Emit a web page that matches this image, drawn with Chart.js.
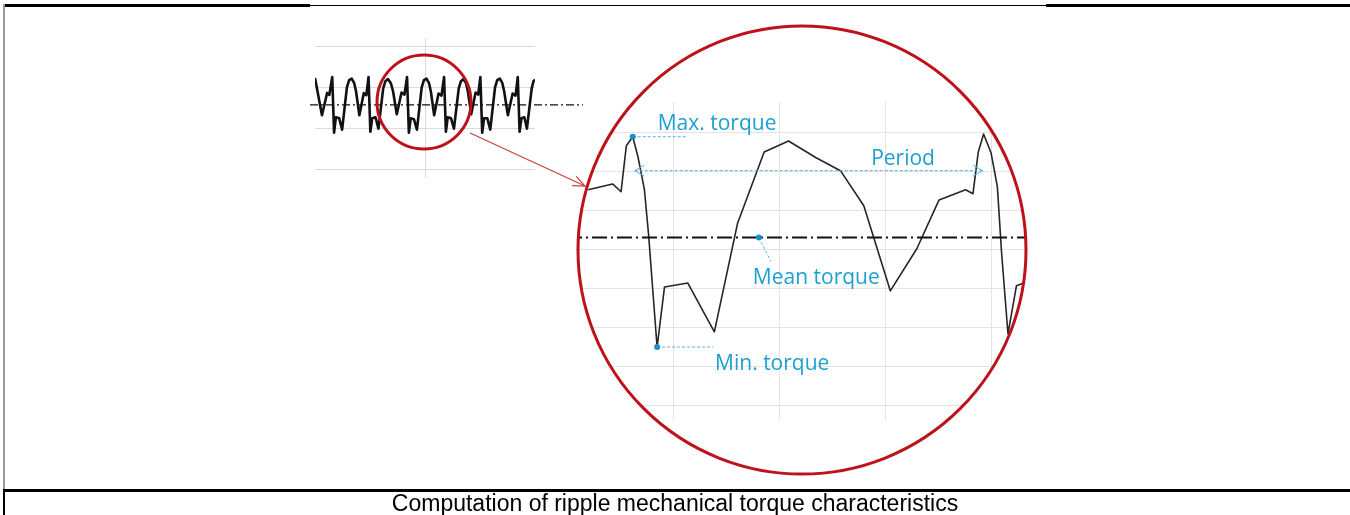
<!DOCTYPE html>
<html>
<head>
<meta charset="utf-8">
<script src="https://cdn.jsdelivr.net/npm/chart.js@4.4.1/dist/chart.umd.min.js"></script>
<style>
  html, body { margin: 0; padding: 0; background: #fff; }
  #page { position: relative; width: 1350px; height: 515px; overflow: hidden; background: #fff; }
  canvas { position: absolute; left: 0; top: 0; }
  .rule { position: absolute; background: #000; }
  #caption {
    position: absolute; left: 0; top: 491px; width: 1350px; height: 24px;
    line-height: 24px; text-align: center; color: #000;
    font-family: "Liberation Sans", Arial, sans-serif; font-size: 23px;
  }
</style>
</head>
<body>
<div id="page">
  <div class="rule" style="left:3px;top:4px;width:307px;height:3px"></div>
  <div class="rule" style="left:310px;top:5px;width:736px;height:1px"></div>
  <div class="rule" style="left:1046px;top:4px;width:304px;height:3px"></div>
  <div class="rule" style="left:3px;top:4px;width:2px;height:485px;background:#9a9a9a"></div>
  <div class="rule" style="left:3px;top:489px;width:1347px;height:3px"></div>
  <div class="rule" style="left:3px;top:489px;width:2px;height:26px"></div>
  <canvas id="zoomChart" width="1350" height="490"></canvas>
  <canvas id="stripChart" width="1350" height="490"></canvas>
  <div id="caption">Computation of ripple mechanical torque characteristics</div>
</div>
<script>
// long strip of the torque signal (top left)
const stripTime = [0, 1.9, 3.3, 3.9, 4.7,
  5.2, 5.7, 6.6, 7.4, 8.7, 9.3, 10.0, 10.7, 11.2, 12.1, 13.3, 14.0, 14.6,
  15.1, 15.6, 16.5, 17.3, 18.6, 19.2, 19.9, 20.7, 21.3, 22.3, 23.6, 24.4, 25.1,
  25.6, 26.1, 27.0, 27.8, 29.1, 29.7, 30.4, 31.1, 31.6, 32.5, 33.7, 34.5, 35.2,
  35.7, 36.2, 37.1, 37.9, 39.2, 39.8, 40.5, 41.2, 41.7, 42.6, 43.8, 44.5, 45.1,
  45.6, 46.1, 47.0, 47.8, 49.1, 49.7, 50.4, 51.1, 51.6, 52.6, 53.9, 54.7, 55.3,
  55.8, 56.3, 57.1, 57.8, 59.1, 59.6, 60];
const stripTorque = [1.45, -0.35, 0.73, 0.63, 1.5,
  -1.2, -0.45, -0.5, -1.05, 1.0, 1.35, 1.42, 1.2, 0.8, -0.35, 0.72, 0.62, 1.5,
  -1.15, -0.5, -0.45, -1.0, 0.95, 1.3, 1.4, 1.2, 0.8, -0.3, 0.75, 0.65, 1.5,
  -1.2, -0.5, -0.55, -1.05, 1.0, 1.35, 1.42, 1.2, 0.8, -0.35, 0.7, 0.6, 1.5,
  -1.15, -0.45, -0.5, -1.0, 0.95, 1.3, 1.4, 1.2, 0.8, -0.3, 0.75, 0.65, 1.5,
  -1.2, -0.5, -0.5, -1.05, 1.0, 1.35, 1.42, 1.2, 0.8, -0.35, 0.7, 0.6, 1.5,
  -1.15, -0.5, -0.45, -1.0, 0.95, 1.3, 1.38];
const stripTimeTicks = [30];
const stripTorqueTicks = [-3, -1, 1, 3];
const stripMean = 0.15;

// one period, zoomed in (inside the big circle)
const zoomTime = [2.0, 4.3, 5.1, 5.6, 6.2, 6.7, 7.3, 7.7, 8.5, 9.2, 11.4, 13.9,
  16.1, 18.6, 20.9, 23.5, 25.8, 28.0, 30.5, 33.0, 35.1, 37.6, 38.3, 38.8,
  39.3, 40.0, 40.6, 41.0, 41.6, 42.4, 43.1];
const zoomTorque = [15.4, 16.9, 14.9, 26.7, 29.0, 23.8, 15.5, 3.8, -24.9, -9.5, -8.5, -21.0,
  6.9, 25.1, 27.9, 23.6, 20.3, 11.3, -10.5, 0.3, 12.8, 15.4, 14.4, 25.1,
  29.7, 24.9, 16.2, -0.8, -21.5, -9.2, -8.5];
const zoomTimeTicks = [10, 20, 30, 40];
const zoomTorqueTicks = [-40, -30, -20, -10, 0, 10, 20, 30];
const meanTorque = 3.2;
const meanMarkTime = 18.1;
const maxIndex = 4;      // first peak, marked "Max. torque"
const minIndex = 8;      // "Min. torque"
const nextPeakIndex = 24; // end of the period
const periodLevel = 20.3;

const labelBlue = '#1c9fd3';
const leaderBlue = '#58b3de';
const red = '#bd1219';

const bigCircle = { x: 802, y: 250, r: 224 };
const smallCircle = { x: 424, y: 102, r: 47 };

function line(ctx, x1, y1, x2, y2) {
  ctx.beginPath(); ctx.moveTo(x1, y1); ctx.lineTo(x2, y2); ctx.stroke();
}
function chevron(ctx, tipX, tipY, dir, len) {
  // open arrow head pointing along dir (+1 right, -1 left)
  const a = Math.PI / 6;
  ctx.beginPath();
  ctx.moveTo(tipX - dir * len * Math.cos(a), tipY - len * Math.sin(a));
  ctx.lineTo(tipX, tipY);
  ctx.lineTo(tipX - dir * len * Math.cos(a), tipY + len * Math.sin(a));
  ctx.stroke();
}
function fixedTicks(values) {
  return scale => { scale.ticks = values.map(v => ({ value: v })); };
}
function gridAxis(min, max, ticks, color) {
  return {
    type: 'linear', min, max,
    afterBuildTicks: fixedTicks(ticks),
    grid: { color, lineWidth: 1, drawTicks: false },
    border: { display: false },
    ticks: { display: false }
  };
}

const zoomDecor = {
  id: 'zoomDecor',
  beforeDraw(chart) {
    const ctx = chart.ctx;
    ctx.save();
    ctx.beginPath();
    ctx.arc(bigCircle.x, bigCircle.y, bigCircle.r, 0, Math.PI * 2);
    ctx.clip();
  },
  afterDatasetsDraw(chart) {
    const { ctx, chartArea, scales: { y } } = chart;
    const my = y.getPixelForValue(meanTorque);
    ctx.save();
    ctx.strokeStyle = '#111';
    ctx.lineWidth = 2;
    ctx.setLineDash([15, 4, 2, 4]);
    line(ctx, chartArea.left, my, chartArea.right, my);
    ctx.restore();
  },
  afterDraw(chart) {
    const { ctx, scales: { x, y } } = chart;
    ctx.restore(); // end of circle clip

    const pt = i => ({ x: x.getPixelForValue(zoomTime[i]), y: y.getPixelForValue(zoomTorque[i]) });
    const maxP = pt(maxIndex), minP = pt(minIndex), nextP = pt(nextPeakIndex);
    const meanP = { x: x.getPixelForValue(meanMarkTime), y: y.getPixelForValue(meanTorque) };
    const periodY = y.getPixelForValue(periodLevel);

    ctx.save();
    ctx.strokeStyle = leaderBlue;
    ctx.lineWidth = 1;
    ctx.setLineDash([3, 2]);
    line(ctx, maxP.x, maxP.y, maxP.x + 55, maxP.y);
    line(ctx, minP.x, minP.y, minP.x + 56, minP.y);
    line(ctx, meanP.x, meanP.y, meanP.x + 12, meanP.y + 24);
    line(ctx, maxP.x + 2, periodY, nextP.x - 1, periodY);
    ctx.setLineDash([]);
    chevron(ctx, maxP.x + 2, periodY, -1, 11);
    chevron(ctx, nextP.x - 1, periodY, 1, 11);

    ctx.fillStyle = '#1b90c8';
    [maxP, minP, meanP].forEach(p => {
      ctx.beginPath(); ctx.arc(p.x, p.y, 3, 0, Math.PI * 2); ctx.fill();
    });

    ctx.fillStyle = labelBlue;
    ctx.font = '21px "Open Sans"';
    ctx.textBaseline = 'alphabetic';
    ctx.fillText('Max. torque', maxP.x + 25, maxP.y - 7);
    ctx.fillText('Min. torque', minP.x + 58, minP.y + 23);
    ctx.fillText('Mean torque', meanP.x - 6, meanP.y + 47);
    ctx.fillText('Period', (maxP.x + nextP.x) / 2 + 63, periodY - 6);

    ctx.strokeStyle = red;
    ctx.lineWidth = 3;
    ctx.beginPath();
    ctx.arc(bigCircle.x, bigCircle.y, bigCircle.r, 0, Math.PI * 2);
    ctx.stroke();
    ctx.restore();
  }
};

const stripDecor = {
  id: 'stripDecor',
  afterDraw(chart) {
    const { ctx, chartArea, scales: { y } } = chart;
    const my = y.getPixelForValue(stripMean);
    ctx.save();
    ctx.strokeStyle = '#111';
    ctx.lineWidth = 1.2;
    ctx.setLineDash([8, 3, 2, 3]);
    line(ctx, chartArea.left - 5, my, chartArea.right + 48, my);
    ctx.setLineDash([]);

    ctx.strokeStyle = red;
    ctx.lineWidth = 3;
    ctx.beginPath();
    ctx.arc(smallCircle.x, smallCircle.y, smallCircle.r, 0, Math.PI * 2);
    ctx.stroke();

    // pointer from the small circle to the zoom
    ctx.strokeStyle = '#c9403a';
    ctx.lineWidth = 1.2;
    line(ctx, 470, 133, 585, 186);
    const ang = Math.atan2(186 - 133, 585 - 470);
    ctx.beginPath();
    ctx.moveTo(585 - 13 * Math.cos(ang - 0.4), 186 - 13 * Math.sin(ang - 0.4));
    ctx.lineTo(585, 186);
    ctx.lineTo(585 - 13 * Math.cos(ang + 0.4), 186 - 13 * Math.sin(ang + 0.4));
    ctx.stroke();
    ctx.restore();
  }
};

new Chart(document.getElementById('zoomChart'), {
  type: 'line',
  data: {
    labels: zoomTime,
    datasets: [{
      data: zoomTime.map((t, i) => ({ x: t, y: zoomTorque[i] })),
      borderColor: '#262626',
      borderWidth: 1.6,
      borderJoinStyle: 'round',
      pointRadius: 0,
      tension: 0
    }]
  },
  options: {
    responsive: false,
    animation: false,
    devicePixelRatio: 1,
    layout: { padding: { left: 567, right: 306, top: 102, bottom: 70 } },
    plugins: { legend: { display: false }, tooltip: { enabled: false } },
    scales: {
      x: gridAxis(0, 45, zoomTimeTicks, '#e3e3e3'),
      y: gridAxis(-43.6, 37.9, zoomTorqueTicks, '#e3e3e3')
    }
  },
  plugins: [zoomDecor]
});

new Chart(document.getElementById('stripChart'), {
  type: 'line',
  data: {
    labels: stripTime,
    datasets: [{
      data: stripTime.map((t, i) => ({ x: t, y: stripTorque[i] })),
      borderColor: '#111',
      borderWidth: 2.6,
      borderJoinStyle: 'round',
      pointRadius: 0,
      tension: 0
    }]
  },
  options: {
    responsive: false,
    animation: false,
    devicePixelRatio: 1,
    layout: { padding: { left: 315, right: 815, top: 38, bottom: 312 } },
    plugins: { legend: { display: false }, tooltip: { enabled: false } },
    scales: {
      x: gridAxis(0, 60, stripTimeTicks, '#dadada'),
      y: gridAxis(-3.39, 3.39, stripTorqueTicks, '#dadada')
    }
  },
  plugins: [stripDecor]
});
</script>
</body>
</html>
